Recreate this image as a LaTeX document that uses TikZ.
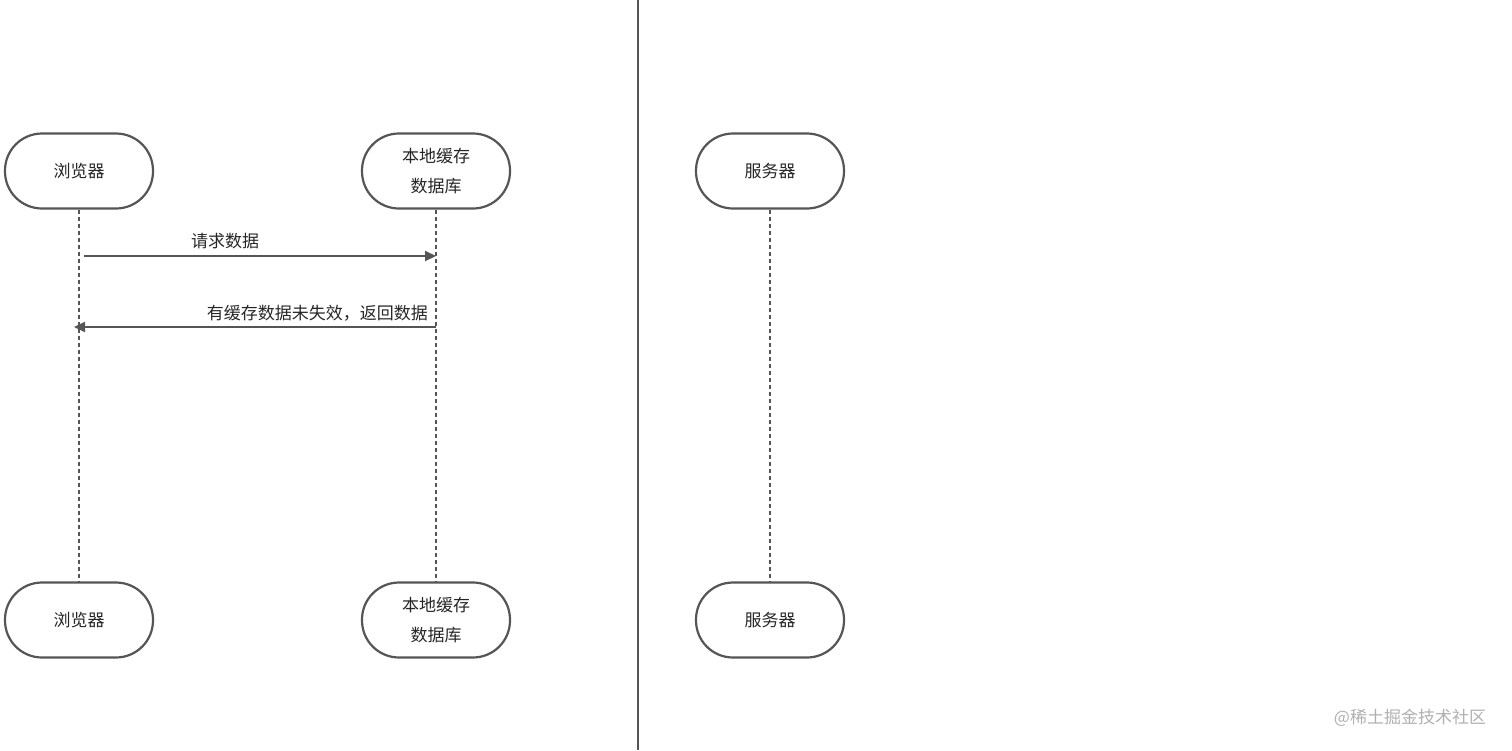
\documentclass[tikz,border=0pt]{standalone}
\usepackage{fontspec}
\setmainfont{Noto Sans CJK SC}
\usetikzlibrary{arrows.meta}
\definecolor{ink}{HTML}{555555}
\definecolor{wm}{HTML}{B0B0B0}
\begin{document}
\begin{tikzpicture}[x=1pt,y=-1pt,
  actor/.style={draw=ink,line width=2.2pt,rounded corners=37pt,minimum width=148pt,minimum height=75pt,inner sep=0pt,align=center,font=\fontsize{17}{30}\selectfont,text=black!85},
  life/.style={draw=ink,line width=1.8pt,dash pattern=on 4pt off 3pt},
  msg/.style={draw=ink,line width=2.2pt,-{Triangle[length=11pt,width=10pt]}},
  lbl/.style={font=\fontsize{17}{20}\selectfont,text=black!85,inner sep=0pt}]
\useasboundingbox (0,0) rectangle (1512,750);
\node[actor] (b1) at (79,171) {浏览器};
\node[actor] (c1) at (436,171) {本地缓存\\数据库};
\node[actor] (s1) at (770,171) {服务器};
\node[actor] (b2) at (79,620) {浏览器};
\node[actor] (c2) at (436,620) {本地缓存\\数据库};
\node[actor] (s2) at (770,620) {服务器};
\draw[life] (b1) -- (b2);
\draw[life] (c1) -- (c2);
\draw[life] (s1) -- (s2);
\coordinate (m1s) at (84,256);
\coordinate (m1e) at (436,256);
\draw[msg] (m1s) -- (m1e);
\node[lbl] (l1) at (225,241) {请求数据};
\coordinate (m2s) at (436,327);
\coordinate (m2e) at (74,327);
\draw[msg] (m2s) -- (m2e);
\node[lbl,anchor=east] (l2) at (428,313) {有缓存数据未失效，返回数据};
\coordinate (vt) at (638,0);
\coordinate (vb) at (638,750);
\draw[draw=ink,line width=2.2pt] (vt) -- (vb);
\node[font=\fontsize{17}{20}\selectfont,text=wm,inner sep=0pt] (wm) at (1410,718) {@稀土掘金技术社区};
\end{tikzpicture}
\end{document}
